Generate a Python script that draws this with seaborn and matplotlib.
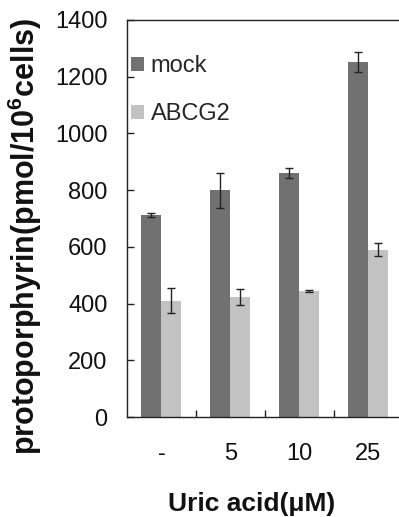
import matplotlib
matplotlib.use("Agg")
import matplotlib.pyplot as plt
import seaborn as sns
import pandas as pd
import numpy as np

categories = ["-", "5", "10", "25"]
series = ["mock", "ABCG2"]
mock_values = [712, 800, 860, 1252]
mock_err = [8, 62, 18, 35]
abcg2_values = [410, 423, 445, 590]
abcg2_err = [45, 27, 3, 23]
y_ticks = [0, 200, 400, 600, 800, 1000, 1200, 1400]

sns.set_theme(style="white")
plt.rcParams["font.family"] = ["Liberation Sans", "DejaVu Sans"]
plt.rcParams["mathtext.fontset"] = "custom"
plt.rcParams["mathtext.rm"] = "Liberation Sans"
plt.rcParams["mathtext.bf"] = "Liberation Sans:bold"

df = pd.DataFrame({
    "cat": categories * 2,
    "series": [series[0]] * 4 + [series[1]] * 4,
    "value": mock_values + abcg2_values,
    "err": mock_err + abcg2_err,
})

fig = plt.figure(figsize=(3.99, 5.17), dpi=100)
ax = fig.add_axes([0.318, 0.1934, 0.692, 0.768])

palette = {"mock": "#717171", "ABCG2": "#c2c2c2"}
sns.barplot(data=df, x="cat", y="value", hue="series", order=categories,
            hue_order=series, palette=palette, errorbar=None, width=0.58,
            saturation=1, ax=ax, edgecolor="none", linewidth=0)

# error bars positioned on bar patches
for s, cont in zip(series, ax.containers):
    sub = df[df["series"] == s].set_index("cat").loc[categories]
    xs = [p.get_x() + p.get_width() / 2 for p in cont.patches]
    ax.errorbar(xs, sub["value"].values, yerr=sub["err"].values, fmt="none",
                ecolor="#222222", elinewidth=1.0, capsize=3, capthick=1.0, zorder=5)

ax.set_ylim(0, 1400)
ax.set_xlim(-0.5, 3.5)
ax.set_yticks(y_ticks)
ax.set_yticklabels([str(t) for t in y_ticks], fontsize=17)
ax.set_xticks(range(len(categories)))
ax.set_xticklabels(categories, fontsize=17)
ax.set_xticks([0.5, 1.5, 2.5], minor=True)
ax.tick_params(axis="x", which="major", length=0, pad=19, colors="#111111")
ax.tick_params(axis="x", which="minor", direction="in", length=5, width=1, color="#222222", bottom=True)
ax.tick_params(axis="y", which="major", direction="in", length=5, width=1, color="#222222", pad=14, left=True, colors="#111111")
ax.tick_params(axis="y", colors="#222222", labelcolor="#111111")

for side in ["left", "bottom", "top"]:
    ax.spines[side].set_visible(True)
    ax.spines[side].set_color("#222222")
    ax.spines[side].set_linewidth(1.0)
ax.spines["right"].set_visible(False)

ax.set_xlabel("Uric acid(μM)", fontsize=19, fontweight="bold", color="#111111")
ax.xaxis.set_label_coords(0.453, -0.19)
ax.set_ylabel(r"protoporphyrin(pmol/10$^\mathbf{6}$cells)", fontsize=22,
              fontweight="bold", color="#111111")
ax.yaxis.set_label_coords(-0.30, 0.455)

leg = ax.legend(loc="upper left", bbox_to_anchor=(-0.02, 0.935), frameon=False,
                fontsize=17, handlelength=0.55, handleheight=0.55, handletextpad=0.3,
                labelspacing=1.1, borderaxespad=0)

fig.savefig("out.png", dpi=100)
